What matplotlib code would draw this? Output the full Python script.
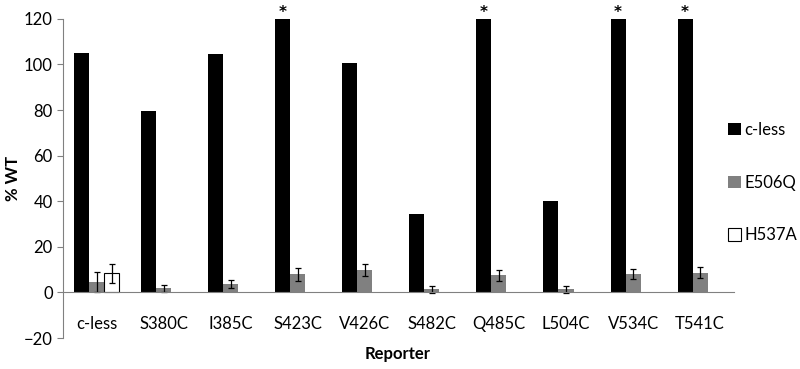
import matplotlib
matplotlib.use("Agg")
import matplotlib.pyplot as plt
import numpy as np

plt.rcParams['font.family'] = ['Lato', 'DejaVu Sans']

categories = ["c-less", "S380C", "I385C", "S423C", "V426C", "S482C", "Q485C", "L504C", "V534C", "T541C"]
cless = [105, 79.5, 104.5, 120, 100.5, 34.5, 120, 40.3, 120, 120]
e506q = [4.5, 1.8, 3.8, 8.0, 10.0, 1.3, 7.5, 1.3, 8.2, 8.7]
e506q_err = [4.3, 1.6, 1.8, 2.8, 2.6, 1.5, 2.3, 1.6, 2.2, 2.5]
h537a = [8.3, np.nan, np.nan, np.nan, np.nan, np.nan, np.nan, np.nan, np.nan, np.nan]
h537a_err = [4.0, 0, 0, 0, 0, 0, 0, 0, 0, 0]
starred = ["S423C", "Q485C", "V534C", "T541C"]

fig = plt.figure(figsize=(8, 3.69), dpi=100)
ax = fig.add_axes([0.079, 0.084, 0.838, 0.865])

x = np.arange(len(categories))
w = 0.224
ax.bar(x - w, cless, w, color='black', label='c-less')
ax.bar(x, e506q, w, color='#808080', label='E506Q',
       yerr=e506q_err, capsize=2.5, error_kw=dict(elinewidth=0.9, capthick=0.9, ecolor='black'))
ax.bar(x + w, h537a, w, color='white', edgecolor='black', linewidth=0.8, label='H537A',
       yerr=h537a_err, capsize=2.5, error_kw=dict(elinewidth=0.9, capthick=0.9, ecolor='black'))

for i, c in enumerate(categories):
    if c in starred:
        ax.text(x[i] - w, cless[i] - 0.5, '*', ha='center', va='bottom', fontsize=11,
                fontweight='bold', family='DejaVu Sans')

ax.set_xlim(-0.5, len(categories) - 0.5)
ax.set_ylim(-20, 120)
ax.set_yticks(np.arange(-20, 121, 20))
ax.spines['top'].set_visible(False)
ax.spines['right'].set_visible(False)
ax.spines['bottom'].set_position(('data', 0))
ax.spines['bottom'].set_color('#808080')
ax.spines['left'].set_color('#808080')
ax.set_xticks(x)
ax.set_xticklabels(categories, fontsize=12)
ax.tick_params(axis='x', length=0, pad=17)
ax.tick_params(axis='y', labelsize=12, length=4, color='#808080', direction='out')
ax.set_ylabel('% WT', fontsize=12, fontweight='bold', labelpad=2)
fig.text(0.497, 0.04, 'Reporter', fontsize=12, fontweight='bold', ha='center', va='center')

fig.legend(loc='center left', bbox_to_anchor=(0.91, 0.505), frameon=False, fontsize=12,
           borderaxespad=0, borderpad=0,
           handlelength=0.75, handleheight=0.75, handletextpad=0.25, labelspacing=2.2)

fig.savefig('out.png', dpi=100)
